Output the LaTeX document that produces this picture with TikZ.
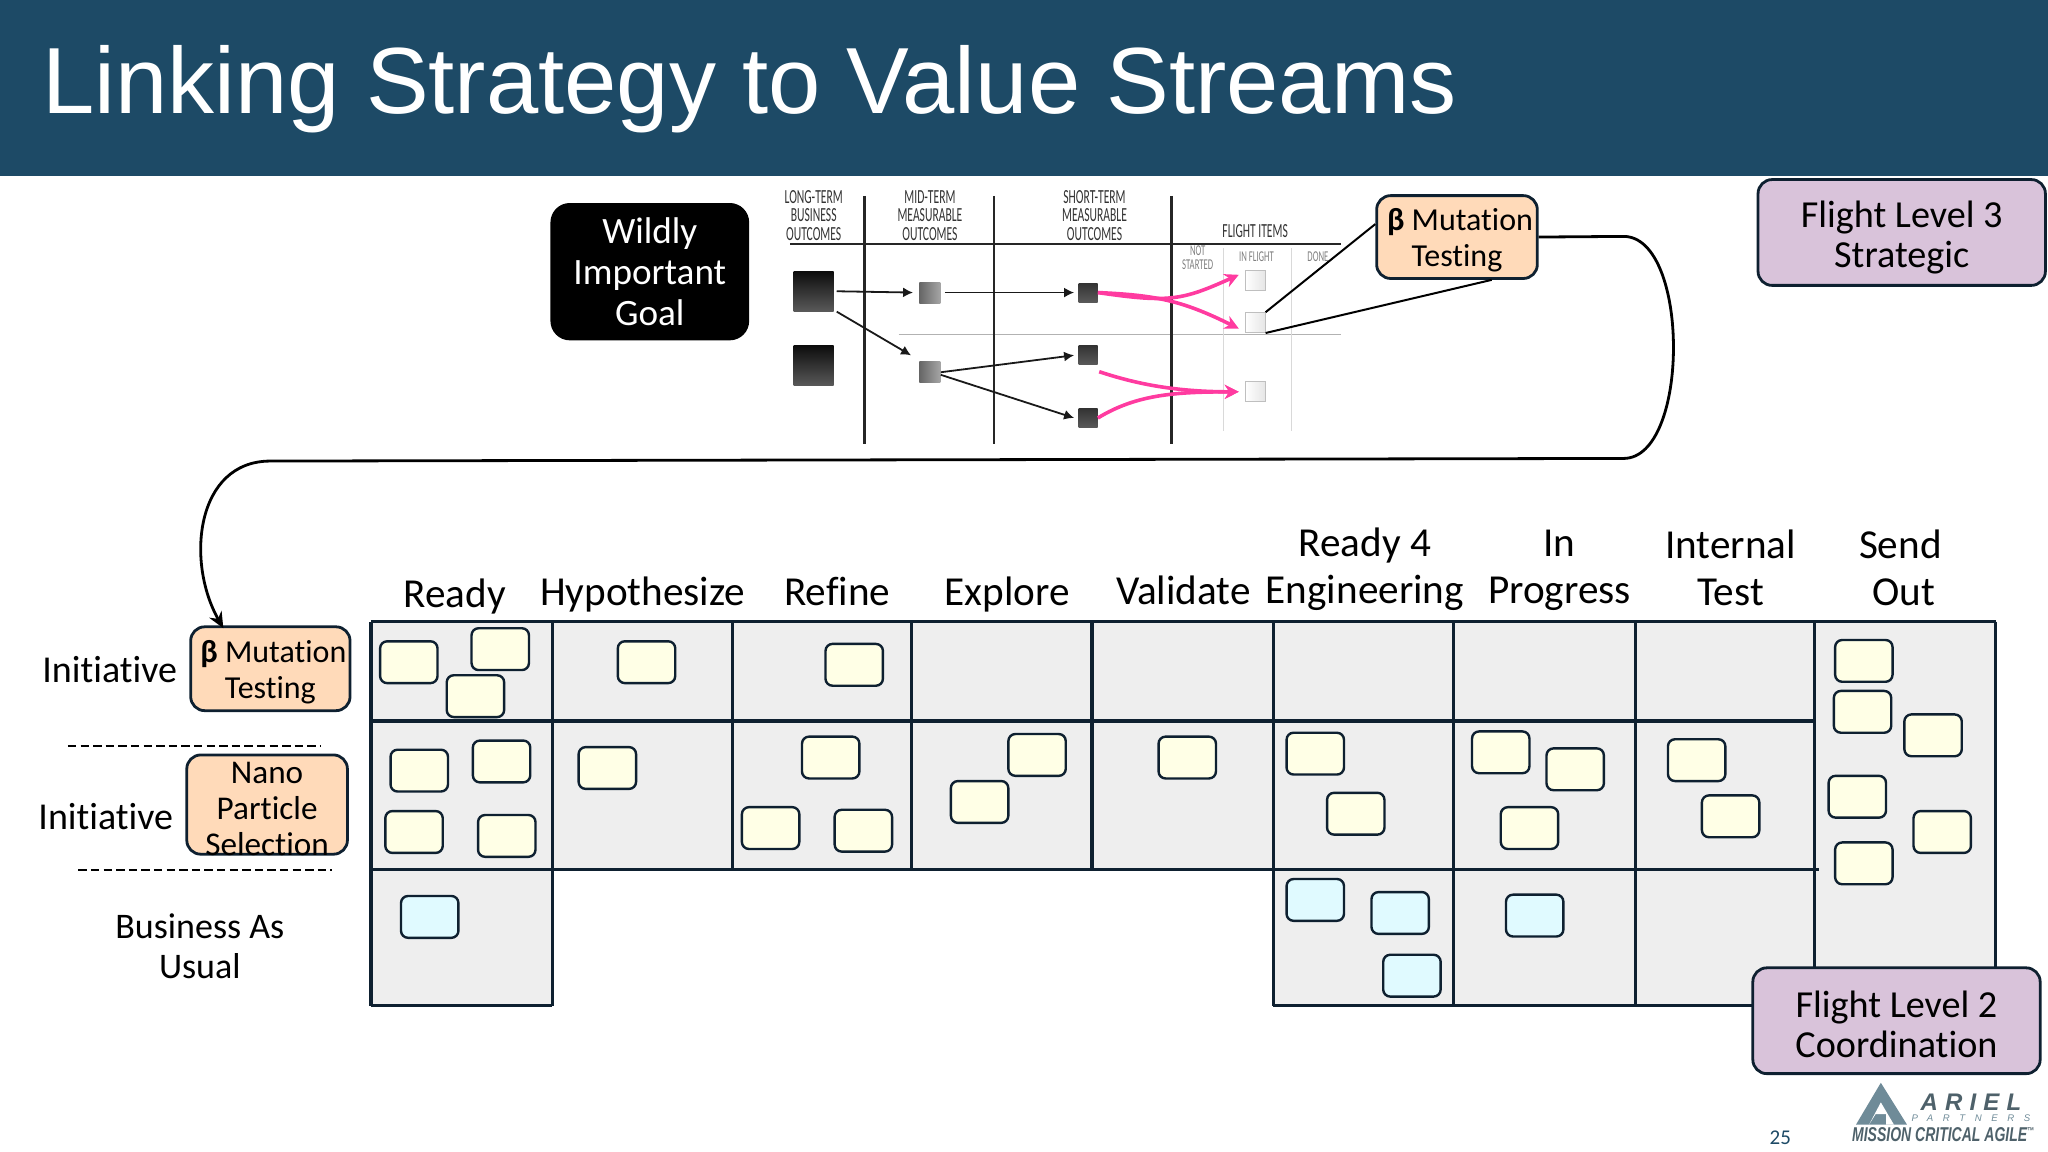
\documentclass[tikz,border=0pt]{standalone}
\usepackage{fontspec}
\setmainfont[Ligatures=NoCommon]{Carlito}
\newfontfamily\titlefont{Liberation Sans}
\newfontfamily\logofont[LetterSpace=30]{Liberation Sans}
\newfontfamily\logowide[LetterSpace=100]{Liberation Sans}
\newfontfamily\logotag{Liberation Sans}
\usetikzlibrary{arrows.meta}
\definecolor{band}{HTML}{1D4A66}
\definecolor{ink}{HTML}{0E2030}
\definecolor{cellgray}{HTML}{EEEEEE}
\definecolor{lilac}{HTML}{D9C3DA}
\definecolor{peach}{HTML}{FFDAB9}
\definecolor{stickyyellow}{HTML}{FFFFE6}
\definecolor{stickyblue}{HTML}{E0FAFF}
\definecolor{hotpink}{HTML}{FF3BA0}
\definecolor{logogray}{HTML}{6F8B98}
\newcommand{\minihead}[1]{\scalebox{.58}[1]{\begin{tabular}{@{}c@{}}#1\end{tabular}}}
\tikzset{
    label20/.style={inner sep=0pt,align=center,font=\fontsize{20.6}{23.5}\selectfont},
    sidetext/.style={inner sep=0pt,align=center,font=\fontsize{18}{20}\selectfont},
    tag/.style={draw=ink,line width=1.4pt,rounded corners=7pt,align=center,inner xsep=0pt},
    tagsize/.style 2 args={minimum width=#1*0.653pt,minimum height=#2*0.653pt},
    initiative/.style={tag,fill=peach,font=\fontsize{16.6}{18}\selectfont},
    mutation/.style={tag,fill=peach,font=\fontsize{16}{18}\selectfont},
    level/.style={tag,fill=lilac,font=\fontsize{19.1}{20}\selectfont,tagsize={220}{81}},
    sticky/.style={draw=ink,line width=1.2pt,rounded corners=3.5pt,minimum width=28.7pt,minimum height=20.9pt,inner sep=0pt},
    boardline/.style={ink,line width=1.6pt},
    minitext/.style={inner sep=0pt,text=black!80,font=\fontsize{10}{9}\selectfont},
    minigray/.style={inner sep=0pt,text=black!50,font=\fontsize{7.5}{7}\selectfont},
    bigsq/.style={minimum size=20pt,inner sep=0pt,top color=black!95,bottom color=black!65},
    midsq/.style={minimum size=10.5pt,inner sep=0pt,left color=black!60,right color=black!35},
    shortsq/.style={minimum size=9.5pt,inner sep=0pt,top color=black!80,bottom color=black!65},
    flightsq/.style={draw=black!25,minimum size=10pt,inner sep=0pt,left color=white,right color=black!10},
    thinarrow/.style={black!90,line width=.9pt,-{Latex[length=5pt,width=5pt]}},
    pinkarrow/.style={hotpink,line width=1.8pt,-{Stealth[length=7pt,width=7pt]}},
}
\begin{document}
\begin{tikzpicture}[x=0.653pt,y=-0.653pt]
    \useasboundingbox (0,0) rectangle (1568,882);
    % Title
    \fill[band] (0,0) rectangle (1568,135);
    \node[anchor=base west,inner sep=0pt,text=white,font=\titlefont\fontsize{47}{47}\selectfont] (title) at (32,87) {Linking Strategy to Value Streams};

    % Mini chart
    \draw[black!85,line width=1.1pt] (605,187) -- (1027,187);
    \draw[black!30,line width=.7pt] (688,256) -- (1027,256);
    \foreach \x in {662,761,897}
        \draw[black!85,line width=1.3pt] (\x,150) -- (\x,340);
    \foreach \x in {937,989}
        \draw[black!15,line width=.6pt] (\x,190) -- (\x,330);
    \node[minitext] (headLong) at (623,167) {\minihead{LONG-TERM\\BUSINESS\\OUTCOMES}};
    \node[minitext] (headMid) at (712,167) {\minihead{MID-TERM\\MEASURABLE\\OUTCOMES}};
    \node[minitext] (headShort) at (838,167) {\minihead{SHORT-TERM\\MEASURABLE\\OUTCOMES}};
    \node[minitext] (headFlight) at (961,179) {\minihead{FLIGHT ITEMS}};
    \node[minigray] (headNot) at (917,199) {\minihead{NOT\\STARTED}};
    \node[minigray] (headIn) at (962,198) {\minihead{IN FLIGHT}};
    \node[minigray] (headDone) at (1009,198) {\minihead{DONE}};

    \node[bigsq] (long1) at (623,223) {};
    \node[bigsq] (long2) at (623,280) {};
    \node[midsq] (mid1) at (712,224) {};
    \node[midsq] (mid2) at (712,285) {};
    \node[shortsq] (short1) at (833,224) {};
    \node[shortsq] (short2) at (833,272) {};
    \node[shortsq] (short3) at (833,320) {};
    \node[flightsq] (flight1) at (961,215) {};
    \node[flightsq] (flight2) at (961,247) {};
    \node[flightsq] (flight3) at (961,300) {};

    \draw[thinarrow] (long1.east) ++(2,0) -- ([xshift=-3pt]mid1.west);
    \draw[thinarrow] (mid1.east) ++(3,0) -- ([xshift=-2pt]short1.west);
    \draw[thinarrow] (long1.south east) ++(2,0) -- ([xshift=-4pt,yshift=3pt]mid2.north west);
    \draw[thinarrow] (mid2.east) -- ([xshift=-2pt]short2.west);
    \draw[thinarrow] (mid2.east) ++(0,2) -- ([xshift=-2pt]short3.west);
    \draw[pinkarrow] (short1.east) .. controls (895,232) and (905,230) .. ([xshift=-3pt,yshift=3pt]flight1.west);
    \draw[pinkarrow] (short1.east) .. controls (885,226) and (905,230) .. ([xshift=-3pt,yshift=-3pt]flight2.west);
    \draw[pinkarrow] (short2.south east) ++(1,5) .. controls (870,294) and (900,300) .. ([xshift=-3pt]flight3.west);
    \draw[pinkarrow] (short3.east) .. controls (870,302) and (900,300) .. ([xshift=-3pt]flight3.west);

    % Tags at the top
    \node[tag,draw=black,fill=black,text=white,font=\fontsize{18.6}{20.3}\selectfont,tagsize={150}{103},rounded corners=9pt] (goal) at (497.5,208) {Wildly\\Important\\Goal};
    \node[mutation,tagsize={123}{61}] (mutTop) at (1115.5,181.5) {\rule{0pt}{14pt}\hspace{3pt}\textbf{β} Mutation\\Testing};
    \node[level] (level3) at (1456,178) {\rule{0pt}{18pt}Flight Level 3\\Strategic};
    \draw[black,line width=1pt] (flight2.north east) -- (mutTop.171);
    \draw[black,line width=1pt] (flight2.south east) -- (mutTop.-51);

    % Board
    \fill[cellgray] (284,476) rectangle (1528,666);
    \fill[cellgray] (284,666) rectangle (423,770);
    \fill[cellgray] (975,666) rectangle (1389,770);
    \fill[cellgray] (1389,666) rectangle (1528,770);
    \draw[boardline] (284,476) -- (1528,476);
    \draw[boardline] (284,552) -- (1389,552);
    \draw[boardline] (284,666) -- (1393,666);
    \draw[boardline] (284,770) -- (423,770);
    \draw[boardline] (975,770) -- (1389,770);
    \foreach \x in {284,423,975,1113,1252,1389,1528}
        \draw[boardline] (\x,476) -- (\x,770);
    \foreach \x in {561,698,836}
        \draw[boardline] (\x,476) -- (\x,666);

    % Column heads
    \node[label20] (hReady) at (348,457) {Ready};
    \node[label20] (hHypo) at (492,455) {Hypothesize};
    \node[label20] (hRefine) at (641,453) {Refine};
    \node[label20] (hExplore) at (771,455) {Explore};
    \node[label20] (hValidate) at (906,452) {Validate};
    \node[label20] (hEng) at (1045,436) {Ready 4\\Engineering};
    \node[label20] (hProg) at (1194,437) {In\\Progress};
    \node[label20] (hTest) at (1325,434.5) {Internal\\Test};
    \node[label20] (hSend) at (1455,434.5) {Send\\\,Out};

    % Stickies
    \foreach \x/\y [count=\n] in {313/507,383/497,364/533,495/507,654/509,
            321/590,384/583,317/637,388/640,465/588,636/580,590/634,661/636,
            794/578,750/614,909/580,1007/577,1038/623,1149/576,1206/589,1171/634,
            1299/582,1325/625,1427/506,1426/545,1480/563,1422/610,1487/637,1427/661}
        \node[sticky,fill=stickyyellow] (work\n) at (\x,\y) {};
    \foreach \x/\y [count=\n] in {329/702,1007/689,1072/699,1081/747,1175/701}
        \node[sticky,fill=stickyblue] (bau\n) at (\x,\y) {};

    \node[level] (level2) at (1452,781.5) {\rule{0pt}{16.5pt}Flight Level 2\\Coordination};

    % Left side
    \node[mutation,tagsize={122}{62}] (mutLeft) at (207,512) {\rule{0pt}{14.5pt}\hspace{3pt}\textbf{β} Mutation\\Testing};
    \node[initiative,tagsize={123}{76},inner ysep=-6pt] (nano) at (204.5,616) {\rule{0pt}{15pt}Nano\\Particle\\Selection};
    \node[sidetext,font=\fontsize{19}{20}\selectfont] (init1) at (84,513) {Initiative};
    \node[sidetext,font=\fontsize{19}{20}\selectfont] (init2) at (81,625) {Initiative};
    \node[sidetext] (bau) at (153,724.5) {Business As\\Usual};
    \draw[black,line width=1.2pt,dash pattern=on 4.2pt off 2.1pt] (52,571) -- (245,571);
    \draw[black,line width=1.2pt,dash pattern=on 4.2pt off 2.1pt] (60,666) -- (254,666);

    % Loop between the two tags
    \coordinate (loopA) at (1243,181);
    \coordinate (loopB) at (1243,351);
    \coordinate (loopC) at (207,353);
    \coordinate (mutIn) at (171,481);
    \draw[black,line width=1.4pt,-{Stealth[length=8pt,width=7pt]}] (mutTop.east) -- (loopA)
        .. controls (1294,181) and (1294,351) .. (loopB) -- (loopC)
        .. controls (150,353) and (142,430) .. (mutIn);

    % Logo
    \fill[logogray] (1440,829) -- (1460,861) -- (1421,861) -- cycle;
    \fill[white] (1440,844) -- (1450,861) -- (1444,861) -- (1444,853) -- (1436,853) -- (1431,861) -- cycle;
    \node[inner sep=0pt,text=logogray!70!black,font=\logofont\bfseries\itshape\fontsize{12}{12}\selectfont] (logoA) at (1509,844) {ARIEL};
    \node[inner sep=0pt,text=logogray,font=\logowide\itshape\fontsize{4.8}{5}\selectfont] (logoB) at (1509,856) {PARTNERS};
    \node[inner sep=0pt,text=logogray!70!black,font=\logotag\bfseries\itshape\fontsize{10}{10}\selectfont] (logoC) at (1488,868.5) {\scalebox{.7}[1]{MISSION CRITICAL AGILE\textsuperscript{\tiny ™}}};
    \node[inner sep=0pt,text=band,font=\fontsize{10.5}{11}\selectfont] (page) at (1363,871) {25};
\end{tikzpicture}
\end{document}
